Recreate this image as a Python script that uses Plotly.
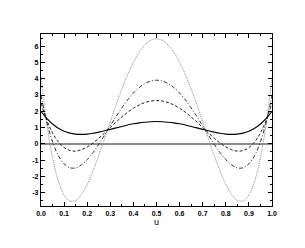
import plotly.graph_objects as go

u = [0.0, 0.025, 0.05, 0.075, 0.1, 0.125, 0.15, 0.175, 0.2, 0.225, 0.25, 0.275, 0.3, 0.325, 0.35, 0.375, 0.4, 0.425, 0.45, 0.475, 0.5,
     0.525, 0.55, 0.575, 0.6, 0.625, 0.65, 0.675, 0.7, 0.725, 0.75, 0.775, 0.8, 0.825, 0.85, 0.875, 0.9, 0.925, 0.95, 0.975, 1.0]

solid = [2.00, 1.56, 1.22, 0.96, 0.78, 0.66, 0.60, 0.58, 0.60, 0.65, 0.72, 0.80, 0.89, 0.98, 1.07, 1.16, 1.23, 1.29, 1.33, 1.36, 1.37,
         1.36, 1.33, 1.29, 1.23, 1.16, 1.07, 0.98, 0.89, 0.80, 0.72, 0.65, 0.60, 0.58, 0.60, 0.66, 0.78, 0.96, 1.22, 1.56, 2.00]

dashed = [2.50, 1.45, 0.67, 0.12, -0.23, -0.41, -0.45, -0.36, -0.19, 0.05, 0.35, 0.67, 1.00, 1.34, 1.65, 1.94, 2.19, 2.39, 2.54, 2.63, 2.66,
          2.63, 2.54, 2.39, 2.19, 1.94, 1.65, 1.34, 1.00, 0.67, 0.35, 0.05, -0.19, -0.36, -0.45, -0.41, -0.23, 0.12, 0.67, 1.45, 2.50]

dashdot = [2.99, 1.34, 0.13, -0.72, -1.23, -1.47, -1.48, -1.30, -0.97, -0.54, -0.03, 0.53, 1.11, 1.67, 2.21, 2.70, 3.12, 3.46, 3.71, 3.86, 3.91,
           3.86, 3.71, 3.46, 3.12, 2.70, 2.21, 1.67, 1.11, 0.53, -0.03, -0.54, -0.97, -1.30, -1.48, -1.47, -1.23, -0.72, 0.13, 1.34, 2.99]

dotted = [4.11, 1.25, -0.85, -2.28, -3.14, -3.51, -3.48, -3.11, -2.49, -1.67, -0.72, 0.30, 1.35, 2.39, 3.36, 4.25, 5.01, 5.63, 6.08, 6.36, 6.45,
          6.36, 6.08, 5.63, 5.01, 4.25, 3.36, 2.39, 1.35, 0.30, -0.72, -1.67, -2.49, -3.11, -3.48, -3.51, -3.14, -2.28, -0.85, 1.25, 4.11]

x_ticks = [0.0, 0.1, 0.2, 0.3, 0.4, 0.5, 0.6, 0.7, 0.8, 0.9, 1.0]
y_ticks = [-3, -2, -1, 0, 1, 2, 3, 4, 5, 6]

fig = go.Figure()
series = [
    (dotted, "#8a8a8a", "1px,1px", 1.0),
    (dashdot, "#333333", "4px,2px,1px,2px", 1.0),
    (dashed, "#222222", "3px,2px", 1.0),
    (solid, "#000000", "solid", 1.1),
]
for ys, col, dash, w in series:
    fig.add_trace(go.Scatter(x=u, y=ys, mode="lines",
                             line=dict(color=col, dash=dash, width=w, shape="spline", smoothing=1.0),
                             showlegend=False, hoverinfo="skip"))

axis_font = dict(family="Liberation Sans, Arial, sans-serif", size=7, color="black", weight="bold")

fig.update_layout(
    width=297, height=240,
    margin=dict(l=33, r=33, t=26, b=42, autoexpand=False),
    paper_bgcolor="white", plot_bgcolor="white",
    xaxis=dict(range=[0, 1], tickvals=x_ticks, ticktext=[f"{v:.1f}" for v in x_ticks],
               ticks="inside", ticklen=4, tickwidth=1, tickcolor="black",
               minor=dict(ticks="inside", dtick=0.05, tick0=0, ticklen=2, tickcolor="black", showgrid=False),
               showline=True, linecolor="black", linewidth=1.2, mirror="allticks",
               showgrid=False, zeroline=False, tickfont=axis_font, automargin=False,
               title=dict(text="u", font=dict(family="Liberation Sans, Arial, sans-serif", size=9, color="black"), standoff=3)),
    yaxis=dict(range=[-3.82, 6.75], tickvals=y_ticks, ticktext=[str(v) for v in y_ticks],
               ticks="inside", ticklen=4, tickwidth=1, tickcolor="black",
               minor=dict(ticks="inside", dtick=0.5, tick0=0, ticklen=2, tickcolor="black", showgrid=False),
               showline=True, linecolor="black", linewidth=1.2, mirror="allticks",
               showgrid=False, zeroline=True, zerolinecolor="#8c8c8c", zerolinewidth=2,
               tickfont=axis_font, automargin=False),
)

fig.write_html("out.html")
